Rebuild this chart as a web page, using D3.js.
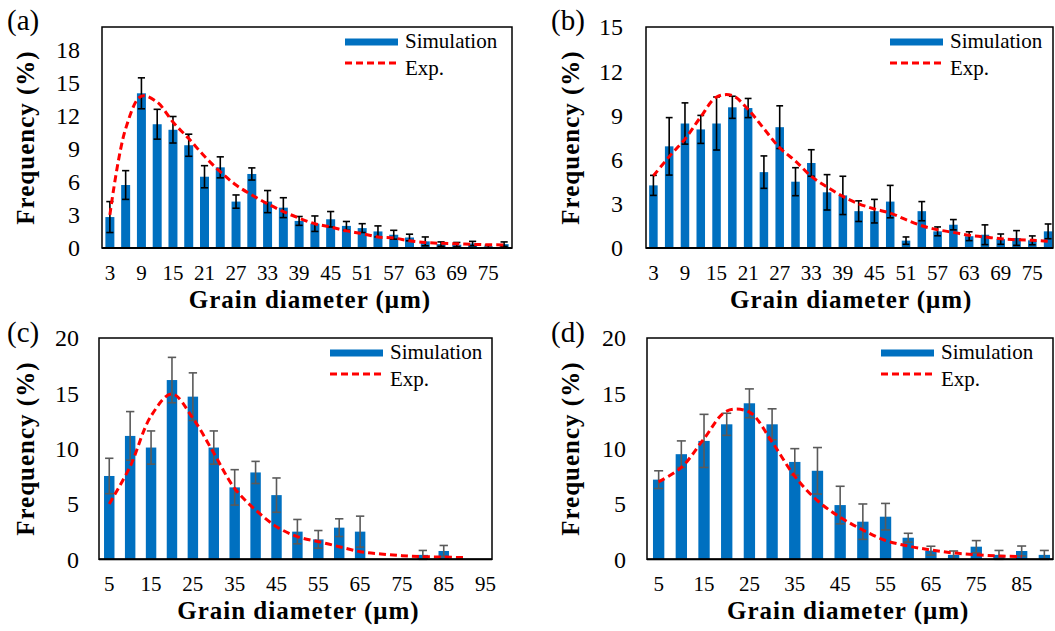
<!DOCTYPE html>
<html><head><meta charset="utf-8">
<script src="https://cdn.jsdelivr.net/npm/d3@7/dist/d3.min.js"></script>
<style>body{margin:0;background:#fff}svg{display:block}text{font-family:"Liberation Serif","Times New Roman",serif;fill:#000}</style>
</head><body><svg id="c" width="1055" height="631"></svg>
<script>
// ---------- data ----------
const catsA = [3,6,9,12,15,18,21,24,27,30,33,36,39,42,45,48,51,54,57,60,63,66,69,72,75,78];
const simA  = [2.8,5.7,14.0,11.2,10.7,9.3,6.45,7.3,4.2,6.7,4.2,3.65,2.45,2.2,2.6,2.0,1.8,1.5,1.2,0.95,0.6,0.35,0.3,0.4,0.15,0.35];
const errA  = [1.4,1.3,1.4,1.35,1.2,1.0,1.0,0.95,0.6,0.55,1.0,0.9,0.4,0.7,0.7,0.4,0.4,0.5,0.4,0.3,0.4,0.2,0.2,0.2,0.1,0.2];
const expA  = [3.0,10.8,13.75,13.2,11.4,9.9,8.3,6.9,5.7,4.8,4.0,3.3,2.7,2.2,1.9,1.55,1.3,1.0,0.9,0.65,0.5,0.42,0.38,0.33,0.3,0.28];
const yTicksA = [0,3,6,9,12,15,18];

const catsB = [3,6,9,12,15,18,21,24,27,30,33,36,39,42,45,48,51,54,57,60,63,66,69,72,75,78];
const simB  = [4.25,6.9,8.45,8.05,8.45,9.55,9.5,5.15,8.2,4.5,5.77,3.78,3.57,2.5,2.5,3.15,0.5,2.5,1.13,1.58,0.8,0.9,0.6,0.68,0.52,1.13];
const errB  = [0.68,1.95,1.4,0.95,1.8,0.75,0.65,1.1,1.45,0.95,0.9,1.2,1.3,0.7,0.8,1.1,0.25,0.65,0.3,0.35,0.3,0.67,0.35,0.5,0.3,0.5];
const expB  = [4.9,6.2,7.4,8.9,10.25,10.35,9.4,8.1,6.8,5.9,4.86,4.14,3.5,3.0,2.65,2.37,1.92,1.51,1.24,1.06,0.86,0.75,0.63,0.56,0.52,0.45];
const yTicksB = [0,3,6,9,12,15];

const catsC = [5,10,15,20,25,30,35,40,45,50,55,60,65,70,75,80,85,90,95];
const simC  = [7.53,11.15,10.1,16.2,14.7,10.1,6.5,7.85,5.8,2.5,1.8,2.86,2.5,0,0,0.4,0.75,0,0];
const errC  = [1.6,2.2,1.5,2.05,2.15,1.5,1.6,1.0,1.55,1.1,0.8,0.8,1.4,0,0,0.4,0.5,0,0];
const expC  = [5.0,8.4,12.95,14.95,12.75,9.6,6.4,4.46,2.95,2.05,1.6,1.14,0.69,0.48,0.33,0.24,0.2,0.15];
const yTicksC = [0,5,10,15,20];

const catsD = [5,10,15,20,25,30,35,40,45,50,55,60,65,70,75,80,85,90];
const simD  = [7.2,9.5,10.7,12.2,14.1,12.2,8.8,8.0,4.9,3.4,3.85,1.95,0.78,0.4,1.14,0.4,0.75,0.4];
const errD  = [0.8,1.2,2.4,1.0,1.3,1.4,1.2,2.1,1.7,1.6,1.2,0.4,0.4,0.35,0.55,0.4,0.45,0.4];
const expD  = [7.0,8.3,10.9,13.4,13.3,10.6,7.5,5.3,3.8,2.65,1.7,1.2,0.84,0.57,0.42,0.3,0.24];
const yTicksD = [0,5,10,15,20];

const panelLabels = ["(a)","(b)","(c)","(d)"];
const legendNames = ["Simulation","Exp."];
const xTitle = "Grain diameter (μm)";
const yTitle = "Frequency (%)";

// ---------- layout ----------
const svg = d3.select("#c");
svg.append("rect").attr("width",1055).attr("height",631).attr("fill","#fff");

const panels = [
  {label:panelLabels[0], cats:catsA, sim:simA, err:errA, exp:expA, ticks:yTicksA, ymax:20,
   L:102, R:512, frameR:512, T:27, B:248, pad:0.43, errColor:"#000", labelX:7, labelY:30, titleX:34, tickX:80, legOff:167, xtShift:3},
  {label:panelLabels[1], cats:catsB, sim:simB, err:errB, exp:expB, ticks:yTicksB, ymax:15,
   L:645.5, R:1056, frameR:1053, T:27, B:248, pad:0.46, errColor:"#000", labelX:551, labelY:30, titleX:579, tickX:623, legOff:163, xtShift:2},
  {label:panelLabels[2], cats:catsC, sim:simC, err:errC, exp:expC, ticks:yTicksC, ymax:20,
   L:98.8, R:496, frameR:492, T:338, B:559.3, pad:0.5, errColor:"#5a5a5a", labelX:7, labelY:342, titleX:34, tickX:79, legOff:162, xtShift:3},
  {label:panelLabels[3], cats:catsD, sim:simD, err:errD, exp:expD, ticks:yTicksD, ymax:20,
   L:647.3, R:1055.7, frameR:1053, T:338, B:559.3, pad:0.5, errColor:"#5a5a5a", labelX:551, labelY:342, titleX:579, tickX:626, legOff:172, xtShift:-2}
];

panels.forEach(p => {
  const g = svg.append("g");
  const x = d3.scaleBand().domain(p.cats).range([p.L, p.R]).paddingInner(p.pad).paddingOuter(p.pad/2);
  const y = d3.scaleLinear().domain([0, p.ymax]).range([p.B, p.T]);
  const cx = c => x(c) + x.bandwidth()/2;
  const rows = p.cats.map((c,i)=>({c, v:p.sim[i], e:p.err[i]})).filter(d=>d.v>0);

  // bars
  g.selectAll("rect.bar").data(rows).enter().append("rect")
    .attr("x", d=>x(d.c)).attr("width", x.bandwidth())
    .attr("y", d=>y(d.v)).attr("height", d=>y(0)-y(d.v))
    .attr("fill","#0070c0");

  // error bars
  const cap = Math.min(9, x.bandwidth()*0.8);
  rows.forEach(d => {
    const ex = cx(d.c);
    const y1 = y(d.v + d.e), y2 = y(Math.max(0, d.v - d.e));
    g.append("line").attr("x1",ex).attr("x2",ex).attr("y1",y1).attr("y2",y2)
      .attr("stroke",p.errColor).attr("stroke-width",1.6);
    [y1,y2].forEach(yy => g.append("line").attr("x1",ex-cap/2).attr("x2",ex+cap/2)
      .attr("y1",yy).attr("y2",yy).attr("stroke",p.errColor).attr("stroke-width",1.6));
  });

  // exp curve
  const line = d3.line().x((d,i)=>cx(p.cats[i])).y(d=>y(d)).curve(d3.curveCatmullRom.alpha(0.5));
  g.append("path").attr("d", line(p.exp)).attr("fill","none")
    .attr("stroke","#ff0000").attr("stroke-width",3).attr("stroke-dasharray","7,4");

  // frame
  g.append("rect").attr("x",Math.round(p.L)).attr("y",p.T)
    .attr("width",p.frameR - Math.round(p.L)).attr("height",p.B-p.T)
    .attr("fill","none").attr("stroke","#000").attr("stroke-width",1.5);
  g.append("line").attr("x1",Math.round(p.L)).attr("x2",p.frameR).attr("y1",p.B).attr("y2",p.B)
    .attr("stroke","#000").attr("stroke-width",2);

  // y tick labels
  p.ticks.forEach(t => g.append("text").attr("x",p.tickX).attr("y",y(t)).attr("dy","0.35em")
    .attr("text-anchor","end").style("font-size","24px").text(t));

  // x tick labels (every other category)
  p.cats.forEach((c,i) => { if (i%2===0) g.append("text").attr("x",cx(c)).attr("y",p.B+32)
    .attr("text-anchor","middle").style("font-size","21px").text(c); });

  // titles
  g.append("text").attr("x",(p.L+p.frameR)/2 + p.xtShift).attr("y",p.B+59.5)
    .attr("text-anchor","middle").style("font-size","25px").style("font-weight","bold")
    .style("letter-spacing","1px").text(xTitle);
  g.append("text").attr("transform",`translate(${p.titleX},${(p.T+p.B)/2}) rotate(-90)`)
    .attr("text-anchor","middle").style("font-size","25px").style("font-weight","bold")
    .style("letter-spacing","1px").text(yTitle);
  g.append("text").attr("x",p.labelX).attr("y",p.labelY).style("font-size","29px").text(p.label);

  // legend
  const lx = p.frameR - p.legOff, ly = p.T + 15;
  g.append("rect").attr("x",lx).attr("y",ly-3.5).attr("width",53).attr("height",7).attr("fill","#0070c0");
  g.append("text").attr("x",lx+60).attr("y",ly+6).style("font-size","21px").text(legendNames[0]);
  g.append("line").attr("x1",lx).attr("x2",lx+53).attr("y1",ly+21).attr("y2",ly+21)
    .attr("stroke","#ff0000").attr("stroke-width",3).attr("stroke-dasharray","7,4");
  g.append("text").attr("x",lx+60).attr("y",ly+33).style("font-size","21px").text(legendNames[1]);
});
</script></body></html>
